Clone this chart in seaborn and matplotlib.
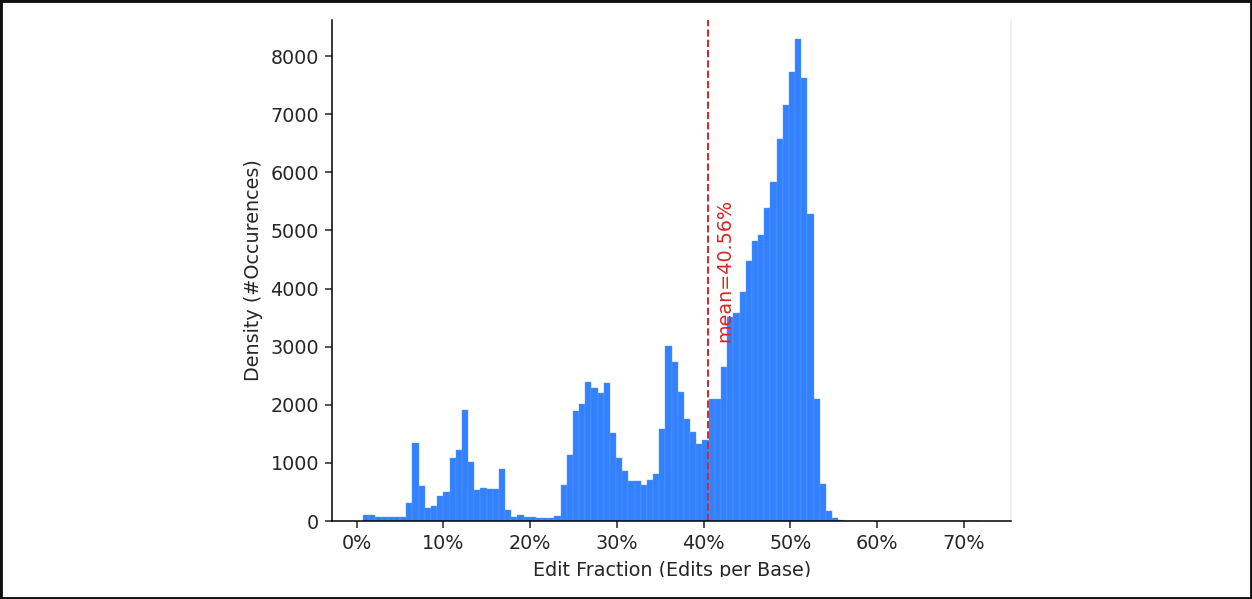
import numpy as np
import pandas as pd
import matplotlib
matplotlib.use("Agg")
import matplotlib.pyplot as plt
from matplotlib.patches import Rectangle
from matplotlib.ticker import PercentFormatter, MultipleLocator
import seaborn as sns

# Histogram of per-read edit fractions: 100 equal-width bins
bin_start = 0.0073
bin_stop = 0.7190
n_bins = 100
counts = [
    95, 95, 74, 74, 74, 74, 74, 304, 1342, 608,
    218, 252, 425, 494, 1079, 1222, 1905, 1015, 528, 562,
    545, 545, 889, 189, 74, 98, 69, 69, 52, 52,
    52, 80, 614, 1130, 1888, 2008, 2398, 2284, 2197, 2381,
    1509, 1090, 855, 683, 683, 620, 706, 803, 1578, 3018,
    2731, 2220, 1750, 1537, 1320, 1394, 2094, 2094, 2656, 3516,
    3585, 3936, 4480, 4819, 4923, 5393, 5840, 6575, 7160, 7722,
    8291, 7630, 5279, 2094, 637, 172, 52, 22, 6, 0,
    0, 0, 0, 0, 0, 0, 0, 0, 0, 0,
    0, 0, 0, 0, 0, 0, 0, 0, 0, 1,
]
mean_fraction = 0.4056

x_label = "Edit Fraction (Edits per Base)"
y_label = "Density (#Occurences)"

edges = np.linspace(bin_start, bin_stop, n_bins + 1)
centers = (edges[:-1] + edges[1:]) / 2
df = pd.DataFrame({"fraction": centers, "count": counts})

plt.rcParams.update({
    "font.size": 13.8,
    "axes.linewidth": 1.1,
    "xtick.major.size": 4.8, "ytick.major.size": 4.8,
    "xtick.major.width": 1.1, "ytick.major.width": 1.1,
    "xtick.major.pad": 4.8, "ytick.major.pad": 4.8,
    "axes.labelpad": 5.5,
    "text.color": "#262626", "xtick.color": "#262626", "ytick.color": "#262626",
    "axes.labelcolor": "#262626",
})

fig = plt.figure(figsize=(12.52, 5.99), dpi=100)
ax = fig.add_axes([0.2654, 0.1302, 0.5421, 0.8364])

sns.histplot(data=df, x="fraction", weights="count", bins=edges.tolist(), ax=ax,
             color="#3381ff", alpha=1.0, edgecolor="#5c9bff", linewidth=0.3)

ax.axvline(mean_fraction, color="#d62728", linestyle="--", linewidth=1.4)
ax.text(0.413, 3080, f"mean={mean_fraction:.2%}", rotation=90,
        color="#d62728", fontsize=13.8, ha="left", va="bottom")

ax.set_ylim(0, 8620)
ax.xaxis.set_major_locator(MultipleLocator(0.1))
ax.xaxis.set_major_formatter(PercentFormatter(1.0, decimals=0))
ax.yaxis.set_major_locator(MultipleLocator(1000))
ax.set_xlabel(x_label)
ax.set_ylabel(y_label)

ax.spines["top"].set_visible(False)
ax.spines["right"].set_color("#ececec")

# white strip along the bottom, then a dark frame round the figure
fig.add_artist(Rectangle((0, 0), 1, 22 / 599, transform=fig.transFigure,
                         facecolor="white", edgecolor="none", zorder=10))
fig.add_artist(Rectangle((0, 0), 1, 1, transform=fig.transFigure,
                         fill=False, edgecolor="#111111", linewidth=3.5, zorder=11))

fig.savefig("out.png", dpi=100)
